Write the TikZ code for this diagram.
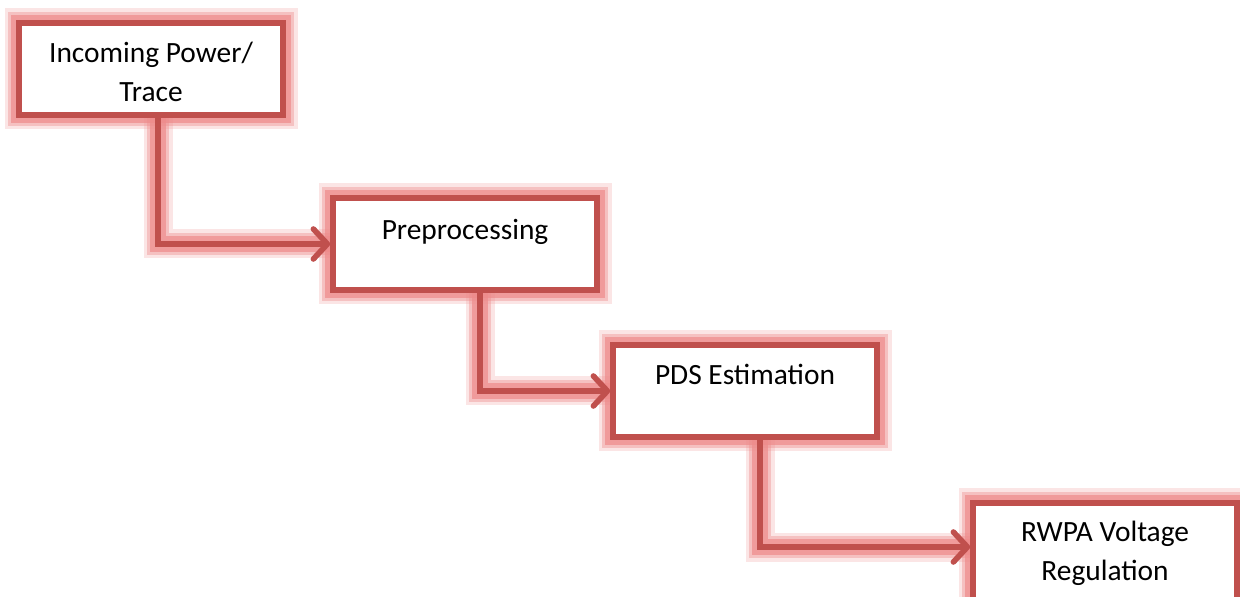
\documentclass[tikz,border=0pt]{standalone}
\usepackage{fontspec}
\setmainfont{Carlito}
\usetikzlibrary{arrows.meta}
\definecolor{boxred}{RGB}{192,80,77}
\definecolor{glowpink}{RGB}{238,140,140}

\begin{document}
\begin{tikzpicture}[x=0.5pt, y=-0.5pt,
    glow/.style = {preaction={draw=glowpink, opacity=0.22, line width=14.5pt, arrows=-, line cap=butt},
                   preaction={draw=glowpink, opacity=0.4, line width=11pt, arrows=-, line cap=butt},
                   preaction={draw=glowpink, opacity=0.7, line width=8pt, arrows=-, line cap=butt}},
    main/.style = {draw=boxred, line width=2.8pt, fill=white, glow, minimum width=132pt, minimum height=46pt},
    txt/.style = {anchor=base, align=center, font=\fontsize{14.7}{19.5}\selectfont},
    flow/.style = {draw=boxred, line width=2.8pt, glow, line cap=round, -{Straight Barb[length=7pt,width=15pt,round]}}]
        \clip (0,0) rectangle (1240,597);
        \fill[white] (0,0) rectangle (1240,597);

        \node[main] (1) at (151,69) {};
        \node[main] (2) at (465,244) {};
        \node[main] (3) at (745,391) {};
        \node[main, minimum height=50pt] (4) at (1105,553) {};

        % base of a two-line node is its last line
        \node[txt] (t1) at ([yshift=-40.5pt]1.north) {Incoming Power/\\Trace};
        \node[txt] (t2) at ([yshift=-22pt]2.north) {Preprocessing};
        \node[txt] (t3) at ([yshift=-21pt]3.north) {PDS Estimation};
        \node[txt] (t4) at ([yshift=-40pt]4.north) {RWPA Voltage\\Regulation};

        \draw[flow] ([xshift=3.5pt]1.south) |- (2.west);
        \draw[flow] ([xshift=7.5pt]2.south) |- (3.west);
        \draw[flow] ([xshift=7.5pt]3.south) |- ([yshift=3pt]4.west);
    \end{tikzpicture}
\end{document}
